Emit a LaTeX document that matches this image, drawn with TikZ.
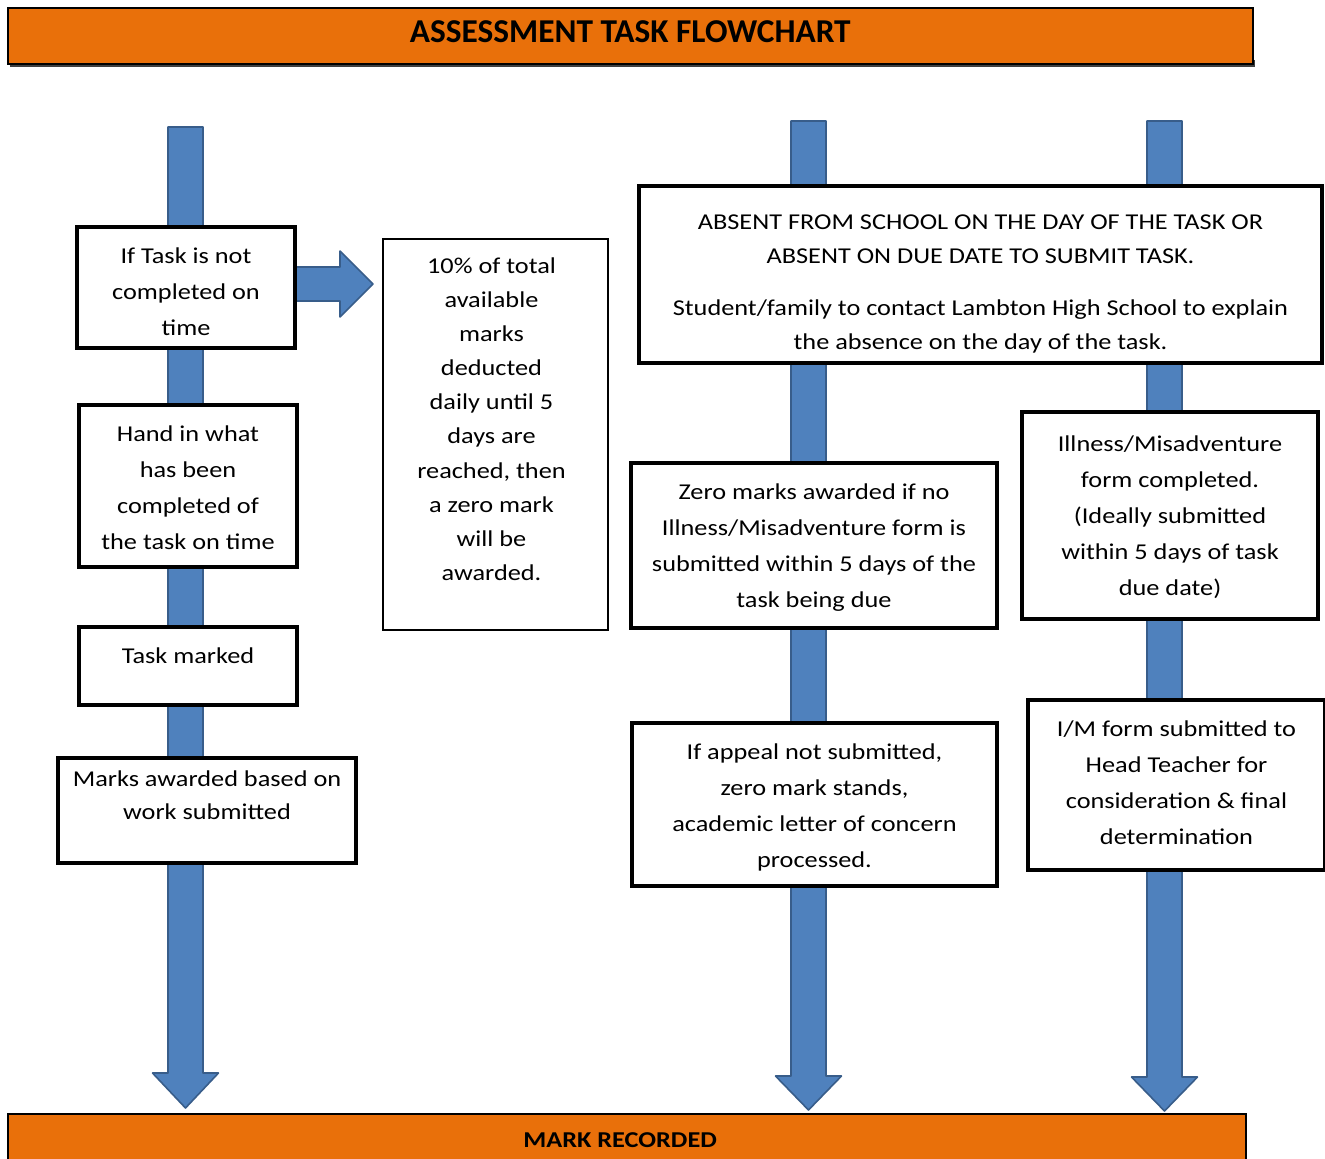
\documentclass[tikz,border=0pt]{standalone}
\usepackage{fontspec}
\setmainfont{Carlito}[FakeStretch=1.16]
\newfontfamily\titlefont{Carlito}
\definecolor{orng}{RGB}{233,112,10}
\definecolor{blu}{RGB}{79,129,189}
\definecolor{bluedge}{RGB}{56,93,138}
\newcommand\PX[1]{\dimexpr #1pt*3/4\relax}
% width, height, top padding (px), text
\newcommand\bx[4]{\parbox[t][\PX{#2}][t]{\PX{#1}}{\centering\fontsize{17}{27}\selectfont\vspace*{\PX{#3}}\strut #4}}
\newcommand\downarr[4]{% x, ytop, yhead, ytip
  \filldraw[bigarrow] (#1-17.5,#2) -- (#1+17.5,#2) -- (#1+17.5,#3) -- (#1+33,#3) -- (#1,#4) -- (#1-33,#3) -- (#1-17.5,#3) -- cycle;}
\begin{document}
\begin{tikzpicture}[x=0.75pt,y=-0.75pt,
  bigarrow/.style={fill=blu,draw=bluedge,line width=1.2pt,line join=round},
  box/.style={draw=black,line width=2.3pt,fill=white,inner sep=0pt,outer sep=0pt,anchor=north west},
  thinbox/.style={box,line width=1.6pt},
  banner/.style={fill=orng,draw=black,line width=1.2pt,inner sep=0pt,anchor=north west,font=\bfseries}]
\useasboundingbox (0,0) rectangle (1325,1158);
\clip (0,0) rectangle (1325,1158);

% big blue arrows
\downarr{185.5}{127}{1073}{1108}
\downarr{808.5}{121}{1076}{1110}
\downarr{1164.5}{121}{1077}{1111}
\filldraw[bigarrow] (290,267) -- (340,267) -- (340,251) -- (373,284) -- (340,317) -- (340,301) -- (290,301) -- cycle;

% boxes
\node[box] (late) at (77,227) {\bx{218}{121}{11}{If Task is not\\completed on\\time}};
\node[box] (handin) at (79,405) {\bx{218}{162}{11}{Hand in what\\has been\\completed of\\the task on time}};
\node[box] (marked) at (79,627) {\bx{218}{78}{11}{Task marked}};
\node[box] (awarded) at (58,758) {\bx{298}{105}{3}{\fontsize{17}{25}\selectfont Marks awarded based on\\work submitted}};
\node[thinbox] (deduct) at (383,239) {\bx{225}{391}{9}{\fontsize{17}{25.6}\selectfont\leftskip=0pt plus 1fil\rightskip=6pt plus 1fil 10\% of total\\available\\marks\\deducted\\daily until 5\\days are\\reached, then\\a zero mark\\will be\\awarded.}};
\node[box] (absent) at (639,186) {\bx{683}{177}{18}{\fontsize{17}{25.5}\selectfont ABSENT FROM SCHOOL ON THE DAY OF THE TASK OR\\ABSENT ON DUE DATE TO SUBMIT TASK.\\[14pt]Student/family to contact Lambton High School to explain\\the absence on the day of the task.}};
\node[box] (zero) at (631,463) {\bx{366}{165}{11}{Zero marks awarded if no\\Illness/Misadventure form is\\submitted within 5 days of the\\task being due}};
\node[box] (illness) at (1022,412) {\bx{296}{207}{14}{Illness/Misadventure\\form completed.\\(Ideally submitted\\within 5 days of task\\due date)}};
\node[box] (appeal) at (632,723) {\bx{365}{163}{11}{If appeal not submitted,\\zero mark stands,\\academic letter of concern\\processed.}};
\node[box] (imform) at (1028,700) {\bx{297}{170}{11}{I/M form submitted to\\Head Teacher for\\consideration \& final\\determination}};

% banners
\fill[black!75] (10,60) rectangle (1255,67);
\node[banner,minimum width=1245*0.75pt,minimum height=56*0.75pt,font=\titlefont\bfseries\fontsize{25}{30}\selectfont] (title) at (7,7) {\raisebox{6pt}{ASSESSMENT TASK FLOWCHART}};
\node[banner,minimum width=1238*0.75pt,minimum height=60*0.75pt,font=\bfseries\fontsize{17}{20}\selectfont] (record) at (7,1113) {\raisebox{5pt}{MARK RECORDED}\kern10pt};
\end{tikzpicture}
\end{document}
